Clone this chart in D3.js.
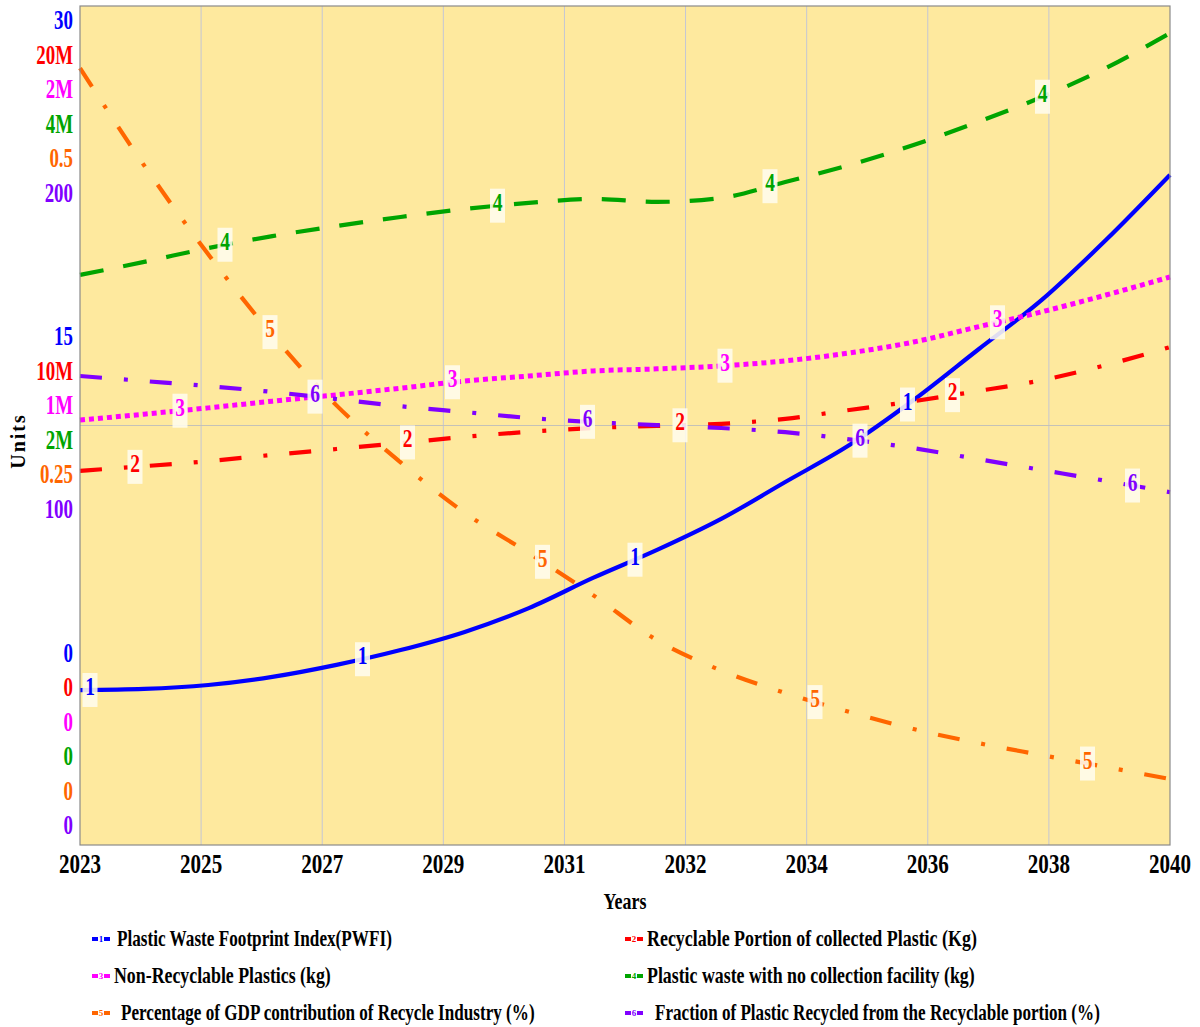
<!DOCTYPE html>
<html>
<head>
<meta charset="utf-8">
<script src="https://cdn.jsdelivr.net/npm/d3@7"></script>
<style>
  body { margin: 0; background: #fff; }
  text { font-family: "Liberation Serif", "Times New Roman", serif; font-weight: bold; }
</style>
</head>
<body>
<div id="chart"></div>
<script>
const years = [2023, 2024, 2025, 2026, 2027, 2028, 2029, 2030, 2031, 2032, 2033, 2034, 2035, 2036, 2037, 2038, 2039, 2040];

const pwfi = [5.54, 5.58, 5.72, 6.01, 6.44, 6.97, 7.62, 8.47, 9.55, 10.55, 11.66, 12.98, 14.30, 15.91, 17.70, 19.49, 21.63, 23.96];
const recyclable = [8.92e6, 9.03e6, 9.15e6, 9.30e6, 9.44e6, 9.58e6, 9.73e6, 9.85e6, 9.94e6, 9.99e6, 10.04e6, 10.16e6, 10.37e6, 10.58e6, 10.82e6, 11.08e6, 11.44e6, 11.87e6];
const nonRecyclable = [1.013e6, 1.027e6, 1.042e6, 1.058e6, 1.073e6, 1.089e6, 1.106e6, 1.118e6, 1.130e6, 1.135e6, 1.142e6, 1.154e6, 1.173e6, 1.199e6, 1.235e6, 1.271e6, 1.311e6, 1.354e6];
const noCollection = [2.718e6, 2.780e6, 2.846e6, 2.903e6, 2.951e6, 2.994e6, 3.032e6, 3.061e6, 3.080e6, 3.066e6, 3.085e6, 3.161e6, 3.242e6, 3.337e6, 3.447e6, 3.566e6, 3.704e6, 3.871e6];
const gdpShare = [0.463, 0.405, 0.352, 0.304, 0.262, 0.228, 0.198, 0.174, 0.149, 0.122, 0.104, 0.0906, 0.0793, 0.0691, 0.0608, 0.0536, 0.0465, 0.0393];
const fractionRecycled = [111.8, 110.6, 109.4, 108.0, 106.3, 104.6, 103.2, 101.8, 100.8, 100.1, 99.4, 98.4, 96.7, 94.6, 92.0, 89.4, 86.8, 84.1];

const seriesNames = [
  "Plastic Waste Footprint Index(PWFI)",
  "Recyclable Portion of collected Plastic (Kg)",
  "Non-Recyclable Plastics (kg)",
  "Plastic waste with no collection facility (kg)",
  "Percentage of GDP contribution of Recycle Industry (%)",
  "Fraction of Plastic Recycled from the Recyclable portion (%)"
];
const seriesMax = [30, 20e6, 2e6, 4e6, 0.5, 200];
const yTopLabels = ["30", "20M", "2M", "4M", "0.5", "200"];
const yMidLabels = ["15", "10M", "1M", "2M", "0.25", "100"];
const yBottomLabels = ["0", "0", "0", "0", "0", "0"];
const xTickLabels = ["2023", "2025", "2027", "2029", "2031", "2032", "2034", "2036", "2038", "2040"];

const allSeries = [pwfi, recyclable, nonRecyclable, noCollection, gdpShare, fractionRecycled];
const colors = ["#0000ff", "#ff0000", "#ff00ff", "#00a400", "#ff6600", "#8000ff"];
const dashes = [null, "22,22,4,22", "5,4", "24,20", "22,22,4,22", "22,22,4,22"];

const W = 1200, H = 1027;
const plot = { left: 80, right: 1170, top: 6, bottom: 845 };

const svg = d3.select("#chart").append("svg")
  .attr("width", W).attr("height", H);

const x = d3.scaleLinear().domain([years[0], years[years.length - 1]]).range([plot.left, plot.right]);
const yScales = seriesMax.map(m => d3.scaleLinear().domain([0, m]).range([plot.bottom, plot.top]));

// squeezed serif text, like the narrow Times of the original
function label(g, txt, px, py, size, sx, anchor, fill) {
  return g.append("text")
    .attr("transform", `translate(${px},${py}) scale(${sx},1)`)
    .attr("text-anchor", anchor)
    .attr("font-size", size)
    .attr("fill", fill)
    .text(txt);
}

// background + grid
svg.append("rect")
  .attr("x", plot.left).attr("y", plot.top)
  .attr("width", plot.right - plot.left).attr("height", plot.bottom - plot.top)
  .attr("fill", "#fee99e");

const tickYears = xTickLabels.map((t, i) => years[0] + (years[years.length - 1] - years[0]) * i / (xTickLabels.length - 1));
svg.append("g").selectAll("line").data(tickYears.slice(1, -1)).enter().append("line")
  .attr("x1", d => x(d)).attr("x2", d => x(d))
  .attr("y1", plot.top).attr("y2", plot.bottom)
  .attr("stroke", "#c4c6d4").attr("stroke-width", 1);
svg.append("line")
  .attr("x1", plot.left).attr("x2", plot.right)
  .attr("y1", (plot.top + plot.bottom) / 2).attr("y2", (plot.top + plot.bottom) / 2)
  .attr("stroke", "#c4c2b8").attr("stroke-width", 1);

// lines
const lineG = svg.append("g");
const paths = allSeries.map((vals, k) => {
  const line = d3.line()
    .x((d, i) => x(years[i]))
    .y(d => yScales[k](d))
    .curve(d3.curveMonotoneX);
  return lineG.append("path")
    .datum(vals)
    .attr("d", line)
    .attr("fill", "none")
    .attr("stroke", colors[k])
    .attr("stroke-width", k === 2 ? 5 : 4.2)
    .attr("stroke-dasharray", dashes[k]);
});

svg.append("rect")
  .attr("x", plot.left).attr("y", plot.top)
  .attr("width", plot.right - plot.left).attr("height", plot.bottom - plot.top)
  .attr("fill", "none").attr("stroke", "#8a8a8a").attr("stroke-width", 1.2);

// numbered markers along each line
function yAtX(node, px) {
  let lo = 0, hi = node.getTotalLength();
  for (let n = 0; n < 40; n++) {
    const mid = (lo + hi) / 2;
    if (node.getPointAtLength(mid).x < px) lo = mid; else hi = mid;
  }
  return node.getPointAtLength(lo).y;
}
const markG = svg.append("g");
paths.forEach((p, k) => {
  for (let j = 0; j < 4; j++) {
    const px = 90 + 45 * k + 272.5 * j;
    const py = yAtX(p.node(), px);
    markG.append("rect")
      .attr("x", px - 7.5).attr("y", py - 17)
      .attr("width", 15).attr("height", 34)
      .attr("fill", "#fffcee").attr("opacity", 0.88);
    label(markG, String(k + 1), px, py + 5, 25, 0.78, "middle", colors[k]);
  }
});

// stacked y labels
const yGroupTop = i => plot.top + 14 + 34.5 * i;
const yGroupMid = i => (plot.top + plot.bottom) / 2 - 3 + 34.5 * (i - 2.5);
const yGroupBottom = i => plot.bottom - 20 - 34.5 * (5 - i);
const yAxisG = svg.append("g");
[[yTopLabels, yGroupTop], [yMidLabels, yGroupMid], [yBottomLabels, yGroupBottom]].forEach(([labels, pos]) => {
  labels.forEach((t, i) => {
    label(yAxisG, t, 73, pos(i) + 9, 27, 0.7, "end", colors[i]);
  });
});

// x tick labels
const xAxisG = svg.append("g");
xTickLabels.forEach((t, i) => {
  label(xAxisG, t, x(tickYears[i]), 873, 27, 0.78, "middle", "#000");
});

label(svg, "Years", 625, 909, 23, 0.78, "middle", "#000");
svg.append("text")
  .attr("transform", "translate(25,441) rotate(-90)")
  .attr("text-anchor", "middle")
  .attr("font-size", 20)
  .attr("letter-spacing", 2)
  .text("Units");

// legend
const legendPos = [
  { sx: 92, tx: 117, y: 946, w: 275 },
  { sx: 625, tx: 647, y: 946, w: 330 },
  { sx: 92, tx: 114, y: 983, w: 217 },
  { sx: 625, tx: 647, y: 983, w: 328 },
  { sx: 92, tx: 121, y: 1020, w: 414 },
  { sx: 625, tx: 655, y: 1020, w: 445 }
];
const legG = svg.append("g");
seriesNames.forEach((name, k) => {
  const p = legendPos[k];
  const cy = p.y - 7;
  legG.append("rect").attr("x", p.sx).attr("y", cy - 2).attr("width", 6).attr("height", 4).attr("fill", colors[k]);
  legG.append("text").attr("x", p.sx + 9).attr("y", cy + 3).attr("font-size", 9).attr("text-anchor", "middle")
    .attr("fill", colors[k]).text(k + 1);
  legG.append("rect").attr("x", p.sx + 12).attr("y", cy - 2).attr("width", 6).attr("height", 4).attr("fill", colors[k]);
  const t = label(legG, name, p.tx, p.y, 24, 1, "start", "#000");
  const natural = t.node().getComputedTextLength();
  t.attr("transform", `translate(${p.tx},${p.y}) scale(${p.w / natural},1)`);
});
</script>
</body>
</html>
